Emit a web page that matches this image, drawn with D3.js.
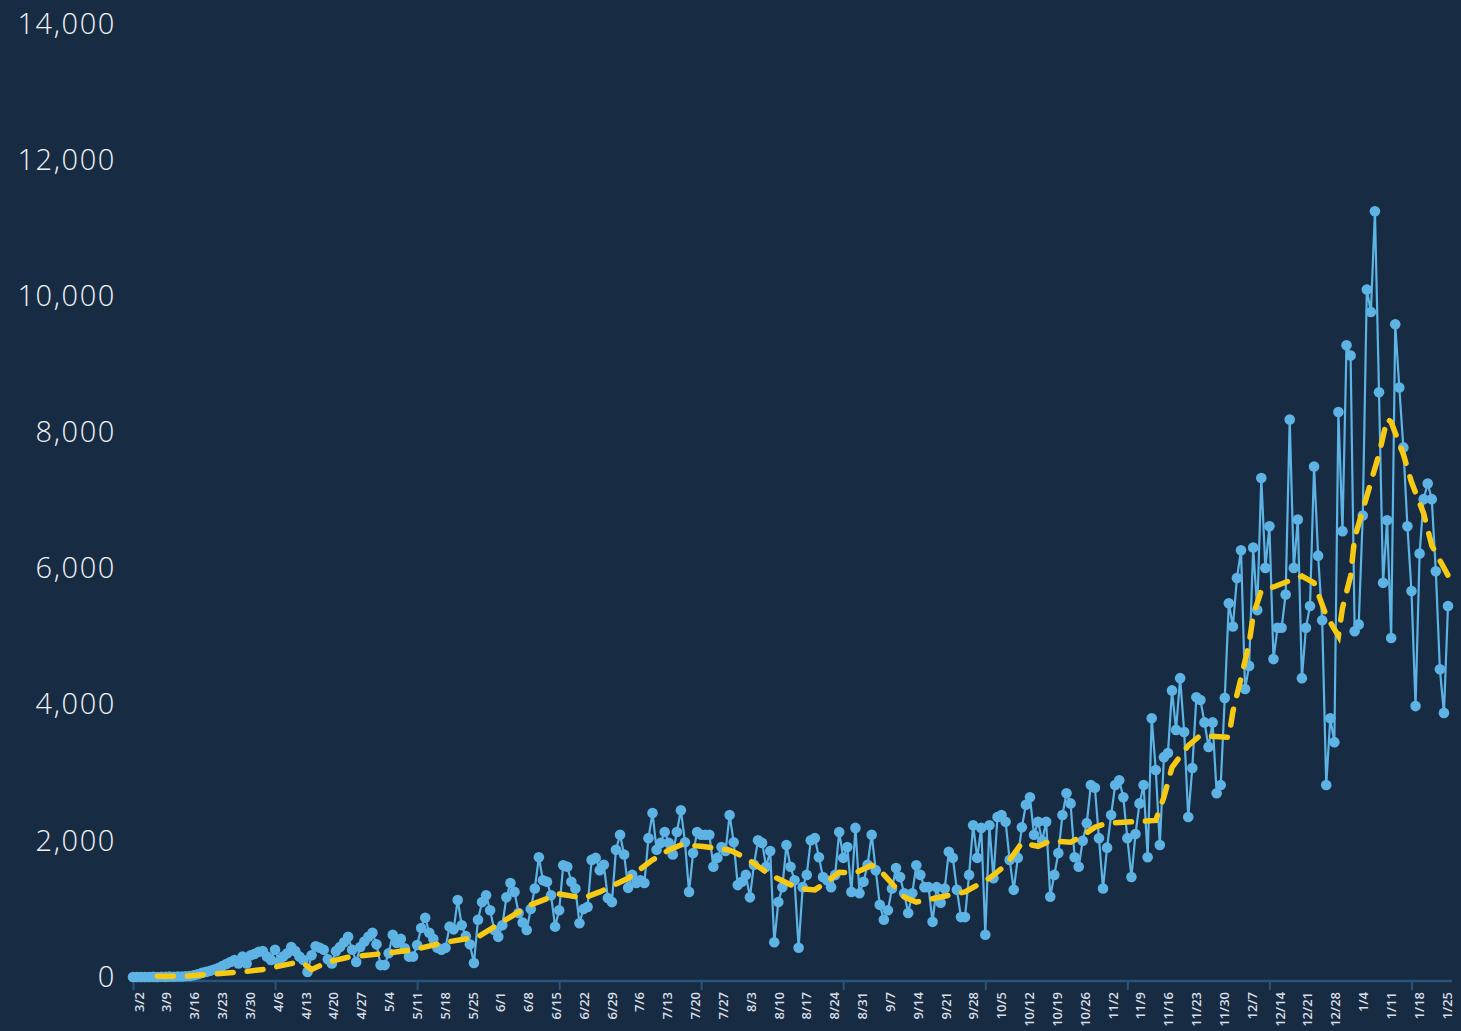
<!DOCTYPE html>
<html>
<head>
<meta charset="utf-8">
<script src="https://cdn.jsdelivr.net/npm/d3@7"></script>
<style>
html, body { margin: 0; padding: 0; background: #172b42; }
svg { display: block; }
</style>
</head>
<body>
<svg id="viz"></svg>
<script>
var width = 1461;
var height = 1031;

// first day of the daily series
var startDate = "2020-03-02";

// daily new cases, one row per week (Mon..Sun)
var daily = [
  0, 0, 0, 1, 0, 2, 1,
  3, 2, 5, 4, 8, 7, 10,
  15, 25, 40, 60, 75, 90, 110,
  130, 160, 190, 220, 250, 200, 300,
  200, 320, 340, 370, 380, 300, 250,
  400, 220, 300, 350, 440, 380, 300,
  250, 75, 320, 450, 430, 400, 260,
  200, 380, 440, 510, 590, 400, 220,
  440, 520, 590, 650, 480, 175, 175,
  350, 620, 500, 560, 420, 300, 300,
  470, 720, 870, 650, 560, 430, 400,
  430, 740, 700, 1130, 760, 600, 480,
  205, 840, 1100, 1200, 980, 690, 590,
  760, 1170, 1380, 1250, 940, 800, 690,
  1000, 1300, 1760, 1420, 1400, 1200, 740,
  980, 1640, 1620, 1400, 1300, 790, 1000,
  1030, 1720, 1750, 1570, 1650, 1160, 1100,
  1870, 2090, 1800, 1310, 1500, 1380, 1420,
  1380, 2040, 2410, 1870, 1970, 2130, 1970,
  1800, 2130, 2450, 1980, 1250, 1820, 2130,
  2090, 2090, 2090, 1620, 1750, 1910, 1850,
  2380, 1980, 1350, 1400, 1500, 1170, 1650,
  2010, 1970, 1620, 1850, 510, 1100, 1320,
  1940, 1620, 1420, 430, 1320, 1500, 2010,
  2040, 1760, 1470, 1420, 1320, 1500, 2130,
  1750, 1910, 1250, 2190, 1230, 1400, 1650,
  2090, 1570, 1060, 840, 980, 1300, 1600,
  1470, 1230, 940, 1230, 1640, 1500, 1320,
  1320, 810, 1320, 1090, 1300, 1840, 1750,
  1280, 880, 880, 1500, 2230, 1750, 2190,
  620, 2230, 1450, 2350, 2380, 2280, 1720,
  1280, 1750, 2200, 2530, 2640, 2090, 2280,
  2000, 2280, 1180, 1500, 1820, 2380, 2700,
  2550, 1760, 1620, 2000, 2260, 2820, 2780,
  2040, 1300, 1900, 2380, 2820, 2890, 2640,
  2040, 1470, 2100, 2550, 2820, 1760, 3800,
  3040, 1940, 3230, 3290, 4210, 3630, 4390,
  3600, 2350, 3070, 4110, 4070, 3740, 3380,
  3740, 2700, 2820, 4100, 5490, 5150, 5860,
  6270, 4230, 4570, 6310, 5390, 7330, 6010,
  6620, 4670, 5130, 5130, 5620, 8190, 6010,
  6720, 4390, 5130, 5450, 7500, 6190, 5240,
  2820, 3800, 3450, 8300, 6550, 9280, 9130,
  5080, 5180, 6780, 10100, 9770, 11250, 8590,
  5790, 6710, 4980, 9590, 8660, 7780, 6620,
  5670, 3980, 6220, 7020, 7250, 7020, 5960,
  4520, 3880, 5450
];

// 7-day average, read at its turning points
var avgDates = [
  "2020-03-08", "2020-03-15", "2020-03-22", "2020-03-29", "2020-04-03", "2020-04-11",
  "2020-04-13", "2020-04-15", "2020-04-19", "2020-04-24", "2020-05-02", "2020-05-10",
  "2020-05-18", "2020-05-26", "2020-06-01", "2020-06-08", "2020-06-15", "2020-06-21",
  "2020-06-25", "2020-07-02", "2020-07-08", "2020-07-12", "2020-07-15", "2020-07-20",
  "2020-07-27", "2020-07-31", "2020-08-06", "2020-08-13", "2020-08-17", "2020-08-20",
  "2020-08-23", "2020-08-27", "2020-08-31", "2020-09-02", "2020-09-08", "2020-09-11",
  "2020-09-23", "2020-09-29", "2020-10-03", "2020-10-07", "2020-10-11", "2020-10-14",
  "2020-10-19", "2020-10-21", "2020-10-25", "2020-10-28", "2020-11-09", "2020-11-11",
  "2020-11-13", "2020-11-17", "2020-11-20", "2020-11-27", "2020-11-28", "2020-11-30",
  "2020-12-02", "2020-12-03", "2020-12-05", "2020-12-08", "2020-12-11", "2020-12-15",
  "2020-12-18", "2020-12-21", "2020-12-24", "2020-12-25", "2020-12-27", "2020-12-28",
  "2020-12-30", "2021-01-01", "2021-01-03", "2021-01-05", "2021-01-06", "2021-01-09",
  "2021-01-11", "2021-01-14", "2021-01-16", "2021-01-20"
];
var avgValues = [
  10, 12, 45, 75, 110, 210,
  200, 110, 220, 290, 340, 400,
  510, 590, 810, 1060, 1220, 1160,
  1250, 1450, 1720, 1865, 1940, 1920,
  1865, 1750, 1500, 1300, 1280, 1400,
  1540, 1530, 1640, 1570, 1175, 1100,
  1250, 1450, 1640, 1970, 1920, 2000,
  1980, 2040, 2200, 2260, 2300, 2640,
  3080, 3400, 3550, 3520, 3900, 4390,
  4900, 5310, 5680, 5730, 5800, 5890,
  5790, 5310, 5010, 5420, 5890, 6450,
  6860, 7270, 7680, 8200, 8150, 7680,
  7270, 6810, 6340, 5900
];

var yTicks = [0, 2000, 4000, 6000, 8000, 10000, 12000, 14000];

var weekLabels = ["3/2", "3/9", "3/16", "3/23", "3/30", "4/6", "4/13", "4/20", "4/27",
  "5/4", "5/11", "5/18", "5/25", "6/1", "6/8", "6/15", "6/22", "6/29", "7/6", "7/13",
  "7/20", "7/27", "8/3", "8/10", "8/17", "8/24", "8/31", "9/7", "9/14", "9/21", "9/28",
  "10/5", "10/12", "10/19", "10/26", "11/2", "11/9", "11/16", "11/23", "11/30", "12/7",
  "12/14", "12/21", "12/28", "1/4", "1/11", "1/18", "1/25"];

var parseDate = d3.timeParse("%Y-%m-%d");
var start = parseDate(startDate);

var series = daily.map(function (v, i) {
    return { date: d3.timeDay.offset(start, i), value: v };
});
var avgSeries = avgDates.map(function (d, i) {
    return { date: parseDate(d), value: avgValues[i] };
});

var svg = d3.select("#viz")
    .attr("width", width)
    .attr("height", height);

svg.append("rect")
    .attr("width", width)
    .attr("height", height)
    .attr("fill", "#172b42");

var x = d3.scaleTime()
    .domain([start, series[series.length - 1].date])
    .range([133, 1448]);

var y = d3.scaleLinear()
    .domain([0, 14000])
    .range([977, 24]);

// week labels sit on their own evenly spaced band
var xLabel = d3.scalePoint()
    .domain(weekLabels)
    .range([139, 1447]);

//y axis
var yAxis = svg.append("g")
    .attr("transform", "translate(116,0)")
    .call(d3.axisLeft(y)
        .tickValues(yTicks)
        .tickFormat(d3.format(","))
        .tickSize(0)
        .tickPadding(0));
yAxis.select(".domain").remove();
yAxis.selectAll("text")
    .attr("fill", "#eef2f6")
    .style("font-family", "'Open Sans', sans-serif")
    .style("font-weight", 300)
    .style("font-size", "29px")
    .style("letter-spacing", "1.6px");

//x axis: tick marks every five weeks
var tickDates = d3.range(0, daily.length, 35).map(function (i) {
    return d3.timeDay.offset(start, i);
});
var xAxis = svg.append("g")
    .attr("transform", "translate(0,981)")
    .call(d3.axisBottom(x)
        .tickValues(tickDates)
        .tickFormat("")
        .tickSize(9)
        .tickSizeOuter(0));
xAxis.select(".domain")
    .attr("stroke", "#2a5479")
    .attr("stroke-width", 2.5)
    .attr("d", "M" + x.range()[0] + ",0H1452");
xAxis.selectAll(".tick line")
    .attr("stroke", "#2a5479")
    .attr("stroke-width", 2);

//week labels
svg.append("g").selectAll("text")
    .data(weekLabels)
    .enter().append("text")
    .attr("transform", function (d) {
        return "translate(" + xLabel(d) + ",992) rotate(-90)";
    })
    .attr("dy", "0.35em")
    .attr("text-anchor", "end")
    .attr("fill", "#d7dee6")
    .style("font-family", "'Open Sans', sans-serif")
    .style("font-weight", 600)
    .style("font-size", "13px")
    .text(function (d) { return d; });

//daily line and dots
var line = d3.line()
    .x(function (d) { return x(d.date); })
    .y(function (d) { return y(d.value); });

svg.append("path")
    .datum(series)
    .attr("d", line)
    .attr("fill", "none")
    .attr("stroke", "#5db3e4")
    .attr("stroke-width", 2.2)
    .attr("stroke-linejoin", "round");

svg.append("g").selectAll("circle")
    .data(series)
    .enter().append("circle")
    .attr("cx", function (d) { return x(d.date); })
    .attr("cy", function (d) { return y(d.value); })
    .attr("r", 5.3)
    .attr("fill", "#5db3e4");

//7-day average
svg.append("path")
    .datum(avgSeries)
    .attr("d", line)
    .attr("fill", "none")
    .attr("stroke", "#f6c915")
    .attr("stroke-width", 5.5)
    .attr("stroke-linecap", "round")
    .attr("stroke-dasharray", "16,14");
</script>
</body>
</html>
